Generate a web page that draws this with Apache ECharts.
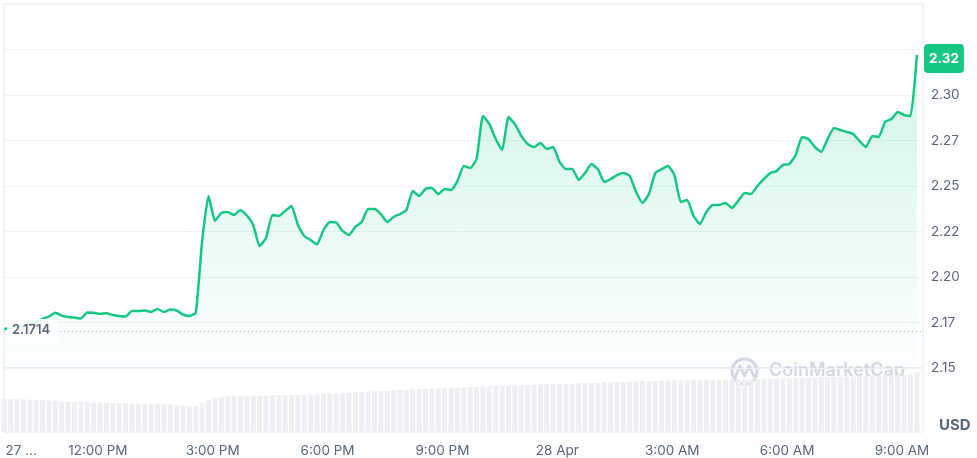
<!DOCTYPE html>
<html>
<head>
<meta charset="utf-8">
<script src="https://cdn.jsdelivr.net/npm/echarts@6/dist/echarts.min.js"></script>
<style>
  html, body { margin: 0; padding: 0; background: #fff; }
  #main { width: 977px; height: 458px; }
</style>
</head>
<body>
<div id="main"></div>
<script>
// time axis in minutes from 27 Apr 00:00, one point every 10 minutes
var startMinute = 573.5;
var stepMinutes = 10;

var prices = [
  2.1714, 2.1720, 2.1725, 2.1731, 2.1742, 2.1753, 2.1769, 2.1783, 2.1804, 2.1788,
  2.1780, 2.1777, 2.1772, 2.1805, 2.1803, 2.1798, 2.1801, 2.1791, 2.1786, 2.1783,
  2.1813, 2.1813, 2.1816, 2.1808, 2.1824, 2.1808, 2.1821, 2.1816, 2.1794, 2.1786,
  2.1804, 2.2198, 2.2445, 2.2308, 2.2352, 2.2357, 2.2341, 2.2368, 2.2338, 2.2286,
  2.2170, 2.2214, 2.2341, 2.2335, 2.2363, 2.2390, 2.2286, 2.2225, 2.2203, 2.2179,
  2.2258, 2.2302, 2.2299, 2.2253, 2.2231, 2.2275, 2.2302, 2.2374, 2.2374, 2.2346,
  2.2302, 2.2330, 2.2346, 2.2368, 2.2473, 2.2445, 2.2484, 2.2489, 2.2456, 2.2484,
  2.2478, 2.2527, 2.2610, 2.2599, 2.2648, 2.2885, 2.2841, 2.2758, 2.2698, 2.2879,
  2.2841, 2.2775, 2.2731, 2.2714, 2.2736, 2.2703, 2.2714, 2.2632, 2.2593, 2.2593,
  2.2533, 2.2571, 2.2621, 2.2593, 2.2522, 2.2538, 2.2560, 2.2571, 2.2555, 2.2467,
  2.2407, 2.2456, 2.2571, 2.2593, 2.2610, 2.2560, 2.2412, 2.2423, 2.2335, 2.2291,
  2.2357, 2.2396, 2.2396, 2.2407, 2.2379, 2.2418, 2.2462, 2.2456, 2.2500, 2.2538,
  2.2571, 2.2582, 2.2615, 2.2621, 2.2670, 2.2769, 2.2758, 2.2714, 2.2687, 2.2758,
  2.2819, 2.2808, 2.2797, 2.2786, 2.2747, 2.2714, 2.2775, 2.2769, 2.2852, 2.2868,
  2.2907, 2.2890, 2.2885, 2.3220
];

// 24h volume, millions USD
var volumes = [
  82, 82, 82, 81, 81, 80, 80, 79, 78,
  76, 76, 75, 75, 74, 74,
  73, 73, 72, 72, 72, 71, 71, 71,
  70, 70, 70, 69, 68, 66, 64,
  64, 72, 80, 85, 88,
  90, 90, 90, 91, 91, 91,
  91, 92, 92, 92, 92, 93, 93,
  94, 94, 95, 96, 96, 97, 98, 99, 100,
  101, 102, 102, 103, 104, 105, 105,
  106, 107, 108, 108, 109, 110, 110,
  111, 112, 112, 113, 114, 114, 115, 115,
  116, 116, 117, 118, 118, 119, 119, 120,
  120, 121, 121, 122, 122, 123, 123,
  124, 124, 125, 125, 126, 126, 127, 127, 128,
  128, 128, 129, 129, 129, 130, 130, 130, 130, 131,
  131, 131, 131, 132, 132, 132, 132, 133, 133,
  134, 134, 135, 135, 136, 136, 137, 137, 138, 138,
  139, 139, 140, 140, 141, 141, 142, 142, 142, 143,
  144, 150
];

var openPrice = 2.1714;
var xTicks = [600, 720, 900, 1080, 1260, 1440, 1620, 1800, 1980];

var times = prices.map(function (p, i) { return startMinute + i * stepMinutes; });
var lastPrice = prices[prices.length - 1];

function timeLabel(m) {
  if (m === 600) return '27 ...';
  if (m % 1440 === 0) return '28 Apr';
  var h = Math.floor(m / 60) % 24;
  var ampm = h < 12 ? 'AM' : 'PM';
  var h12 = h % 12 || 12;
  return h12 + ':00 ' + ampm;
}

var labelColor = '#58667e';
var font = 'Inter, "Noto Sans", sans-serif';

var myChart = echarts.init(document.getElementById('main'));
var option = {
  animation: false,
  backgroundColor: '#fff',
  textStyle: { fontFamily: font },
  grid: [
    { left: 4, right: 54, top: 4, bottom: 90, show: true, borderColor: '#e8eaed', borderWidth: 1 },
    { left: 4, right: 54, top: 368, bottom: 26, show: true, borderColor: '#e8eaed', borderWidth: 1 }
  ],
  xAxis: [
    {
      type: 'value', gridIndex: 0, min: 573, max: 2013,
      axisLabel: { show: false }, axisLine: { show: false }, axisTick: { show: false },
      splitLine: { show: false }
    },
    {
      type: 'value', gridIndex: 1, min: 573, max: 2013,
      axisLine: { show: false }, axisTick: { show: false }, splitLine: { show: false },
      axisLabel: {
        customValues: xTicks,
        formatter: timeLabel,
        color: labelColor, fontSize: 13.5, fontFamily: font, margin: 12
      }
    }
  ],
  yAxis: [
    {
      type: 'value', gridIndex: 0, position: 'right',
      min: 2.15, max: 2.35, interval: 0.025,
      axisLine: { show: false }, axisTick: { show: false },
      splitLine: { lineStyle: { color: '#eff2f5', width: 1 } },
      axisLabel: {
        color: labelColor, fontSize: 13.5, fontFamily: font, margin: 8,
        padding: [2, 0, 0, 0],
        formatter: function (v) {
          if (v > 2.31) return '';
          return (Math.floor(v * 100 + 1e-6) / 100).toFixed(2);
        }
      }
    },
    {
      type: 'value', gridIndex: 1, min: 0, max: 160, show: false
    }
  ],
  graphic: [
    {
      id: 'usd', type: 'text', left: 939, top: 418,
      style: { text: 'USD', fill: labelColor, font: 'bold 15px ' + font }
    },
    {
      id: 'watermark', type: 'group', silent: true, z: 0,
      children: [
        {
          type: 'circle', shape: { cx: 744.5, cy: 371.5, r: 12.5 },
          style: { fill: 'none', stroke: '#d3d8e2', lineWidth: 3 }
        },
        {
          type: 'polyline',
          shape: { points: [[735, 378], [740, 366], [744.5, 376], [749, 366], [754, 376]] },
          style: { fill: 'none', stroke: '#d3d8e2', lineWidth: 3, lineJoin: 'round', lineCap: 'round' }
        },
        {
          type: 'text', left: 769, top: 362,
          style: { text: 'CoinMarketCap', fill: '#d3d8e2', font: '600 18px ' + font }
        }
      ]
    }
  ],
  series: [
    {
      type: 'bar', xAxisIndex: 1, yAxisIndex: 1,
      data: times.map(function (t, i) { return [t, volumes[i]]; }),
      barWidth: 5,
      itemStyle: { color: '#edeff3' },
      silent: true
    },
    {
      type: 'line', xAxisIndex: 0, yAxisIndex: 0,
      data: times.map(function (t, i) { return [t, prices[i]]; }),
      showSymbol: false,
      smooth: 0.15,
      z: 2,
      lineStyle: { color: '#16c784', width: 2.5 },
      areaStyle: {
        color: new echarts.graphic.LinearGradient(0, 0, 0, 1, [
          { offset: 0, color: 'rgba(22,199,132,0.28)' },
          { offset: 1, color: 'rgba(22,199,132,0.01)' }
        ])
      },
      markLine: {
        silent: true,
        symbol: 'none',
        animation: false,
        data: [
          {
            yAxis: openPrice,
            lineStyle: { type: [1, 3], color: '#a6b0c3', width: 1 },
            label: { show: false }
          },
          {
            yAxis: lastPrice,
            lineStyle: { color: 'rgba(0,0,0,0)', width: 1 },
            label: {
              position: 'end', distance: 1,
              formatter: lastPrice.toFixed(2),
              color: '#fff', fontSize: 13.5, fontWeight: 'bold', fontFamily: font,
              backgroundColor: '#16c784', borderRadius: 4,
              padding: [8, 5, 7, 5]
            }
          }
        ]
      }
    }
  ]
};
myChart.setOption(option);

// opening price tag over the start of the line
var openY = myChart.convertToPixel({ yAxisIndex: 0 }, openPrice);
myChart.setOption({
  graphic: [
    {
      id: 'openBox', type: 'rect', z: 20, silent: true,
      shape: { x: 7, y: openY - 10, width: 51, height: 23 },
      style: { fill: 'rgba(255,255,255,0.85)' }
    },
    {
      id: 'openText', type: 'text', z: 21, silent: true,
      x: 12, y: openY + 1.5,
      style: {
        text: openPrice.toFixed(4), fill: labelColor,
        font: '600 13px ' + font, textVerticalAlign: 'middle'
      }
    }
  ]
});
</script>
</body>
</html>
